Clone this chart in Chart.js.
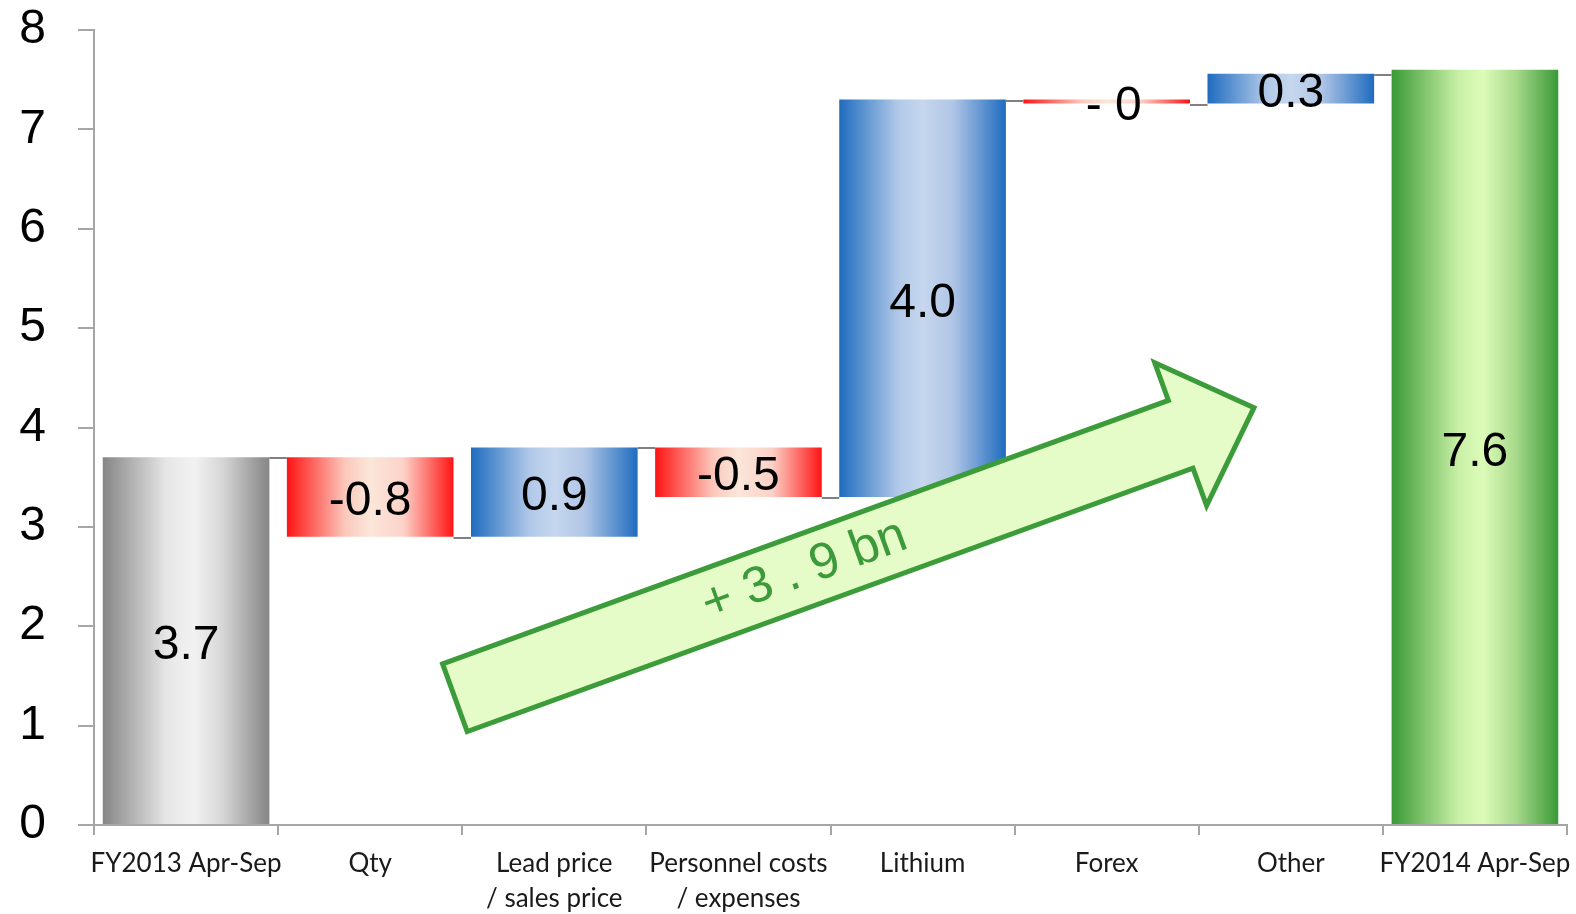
<!DOCTYPE html>
<html>
<head>
<meta charset="utf-8">
<script src="https://cdn.jsdelivr.net/npm/chart.js@4.4.0/dist/chart.umd.min.js"></script>
<style>
  html, body { margin: 0; padding: 0; background: #fff; }
  #wrap { width: 1576px; height: 914px; }
</style>
</head>
<body>
<div id="wrap"><canvas id="bridgeChart"></canvas></div>
<script>
// operating income bridge, bn
const categories = [
  'FY2013 Apr-Sep',
  'Qty',
  ['Lead price', '/ sales price'],
  ['Personnel costs', '/ expenses'],
  'Lithium',
  'Forex',
  'Other',
  'FY2014 Apr-Sep'
];
const startValue = 3.7;
const changes = [-0.8, 0.9, -0.5, 4.0, -0.04, 0.3];
const endValue = 7.6;
const yMin = 0;
const yMax = 8;
const yStep = 1;
const growthText = '+ 3 . 9 bn';

// floating [from, to] ranges for the bridge
const ranges = [[0, startValue]];
let level = startValue;
changes.forEach(c => {
  ranges.push([level, level + c]);
  level += c;
});
ranges.push([0, endValue]);

const kinds = ranges.map((r, i) => {
  if (i === 0) return 'start';
  if (i === ranges.length - 1) return 'end';
  return r[1] >= r[0] ? 'up' : 'down';
});

const BAR_PCT = 0.905;

const stops = {
  start: [[0, '#858585'], [0.38, '#e6e6e6'], [0.55, '#f2f2f2'], [0.72, '#d6d6d6'], [1, '#858585']],
  end:   [[0, '#3a9a36'], [0.4, '#c9f0a6'], [0.55, '#dcfcb8'], [0.75, '#a6d889'], [1, '#3a9a36']],
  up:    [[0, '#1f6cbf'], [0.35, '#b0c8e8'], [0.5, '#c6d7ee'], [0.68, '#b1c6e6'], [1, '#1f6cbf']],
  down:  [[0, '#ff1414'], [0.35, '#fcc8bc'], [0.5, '#fbe6da'], [0.7, '#fcd2c8'], [1, '#ff1414']]
};

function barFill(ctx) {
  const chart = ctx.chart;
  const xs = chart.scales.x;
  if (ctx.type !== 'data' || !xs || !chart.chartArea) return '#999';
  const i = ctx.dataIndex;
  const cx = xs.getPixelForValue(i);
  const w = xs.width / categories.length * BAR_PCT;
  const g = chart.ctx.createLinearGradient(cx - w / 2, 0, cx + w / 2, 0);
  stops[kinds[i]].forEach(([o, c]) => g.addColorStop(o, c));
  return g;
}

function labelText(i) {
  const r = ranges[i];
  const v = kinds[i] === 'start' || kinds[i] === 'end' ? r[1] : r[1] - r[0];
  if (v < 0 && Math.abs(v) < 0.05) return '- 0';
  return v.toFixed(1);
}

const bridgeExtras = {
  id: 'bridgeExtras',
  afterDatasetsDraw(chart) {
    const { ctx, scales: { x: xs, y: ys } } = chart;
    const bars = chart.getDatasetMeta(0).data;

    // connector ticks between neighbouring bars
    ctx.save();
    ctx.strokeStyle = '#808080';
    ctx.lineWidth = 2;
    for (let i = 0; i < bars.length - 1; i++) {
      const yy = Math.round(ys.getPixelForValue(ranges[i][1])) + 1;
      const x1 = bars[i].x + bars[i].width / 2;
      const x2 = bars[i + 1].x - bars[i + 1].width / 2;
      ctx.beginPath();
      ctx.moveTo(x1, yy);
      ctx.lineTo(x2, yy);
      ctx.stroke();
    }
    ctx.restore();

    // big growth arrow
    const a = { x: xs.getPixelForValue(1.46), y: ys.getPixelForValue(1.28) };
    const b = { x: xs.getPixelForValue(5.80), y: ys.getPixelForValue(4.20) };
    const len = Math.hypot(b.x - a.x, b.y - a.y);
    const ux = (b.x - a.x) / len, uy = (b.y - a.y) / len;
    const nx = -uy, ny = ux;
    const hw = 36, hh = 76, hl = 78;
    const neck = { x: b.x - ux * hl, y: b.y - uy * hl };
    const pts = [
      [a.x - nx * hw, a.y - ny * hw],
      [neck.x - nx * hw, neck.y - ny * hw],
      [neck.x - nx * hh, neck.y - ny * hh],
      [b.x, b.y],
      [neck.x + nx * hh, neck.y + ny * hh],
      [neck.x + nx * hw, neck.y + ny * hw],
      [a.x + nx * hw, a.y + ny * hw]
    ];
    ctx.save();
    ctx.beginPath();
    pts.forEach(([px, py], k) => k ? ctx.lineTo(px, py) : ctx.moveTo(px, py));
    ctx.closePath();
    ctx.fillStyle = '#e5fcc8';
    ctx.fill();
    ctx.lineWidth = 5;
    ctx.lineJoin = 'miter';
    ctx.strokeStyle = '#3c9c3a';
    ctx.stroke();

    ctx.translate(a.x + ux * 372, a.y + uy * 372);
    ctx.rotate(Math.atan2(uy, ux));
    ctx.font = '51px "Liberation Sans", Arial, sans-serif';
    ctx.fillStyle = '#3c9a3a';
    ctx.textAlign = 'center';
    ctx.textBaseline = 'middle';
    ctx.fillText(growthText, 0, 0);
    ctx.restore();

    // value labels
    ctx.save();
    ctx.font = '48px "Liberation Sans", Arial, sans-serif';
    ctx.fillStyle = '#000';
    ctx.textAlign = 'center';
    ctx.textBaseline = 'middle';
    bars.forEach((bar, i) => {
      const yc = (ys.getPixelForValue(ranges[i][0]) + ys.getPixelForValue(ranges[i][1])) / 2;
      const dx = labelText(i) === '- 0' ? 7 : 0;
      ctx.fillText(labelText(i), bar.x + dx, yc + 5);
    });
    ctx.restore();
  }
};

new Chart(document.getElementById('bridgeChart'), {
  type: 'bar',
  data: {
    labels: categories,
    datasets: [{
      data: ranges,
      backgroundColor: barFill,
      borderWidth: 0,
      barPercentage: BAR_PCT,
      categoryPercentage: 1.0
    }]
  },
  options: {
    responsive: true,
    maintainAspectRatio: false,
    animation: false,
    layout: { padding: { top: 30, right: 9, left: 0, bottom: 0 } },
    plugins: {
      legend: { display: false },
      tooltip: { enabled: false }
    },
    scales: {
      x: {
        grid: { offset: true, drawOnChartArea: false, tickLength: 10, color: '#a6a6a6', lineWidth: 2 },
        border: { color: '#a6a6a6', width: 2 },
        ticks: {
          color: '#1a1a1a',
          font: { family: 'Lato', size: 26, lineHeight: 1.35 },
          padding: 11,
          maxRotation: 0,
          autoSkip: false
        },
        afterFit: s => {
          s.height = 89;
          s.paddingLeft = 0;
          s.paddingRight = 0;
        }
      },
      y: {
        min: yMin,
        max: yMax,
        ticks: {
          stepSize: yStep,
          color: '#000',
          font: { family: 'Liberation Sans', size: 48 },
          padding: 32
        },
        grid: { drawOnChartArea: false, tickLength: 16, color: '#a6a6a6', lineWidth: 2 },
        border: { color: '#a6a6a6', width: 2 },
        afterFit: s => {
          s.width = 94;
          s.paddingTop = 0;
          s.paddingBottom = 0;
        }
      }
    }
  },
  plugins: [bridgeExtras]
});
</script>
</body>
</html>
